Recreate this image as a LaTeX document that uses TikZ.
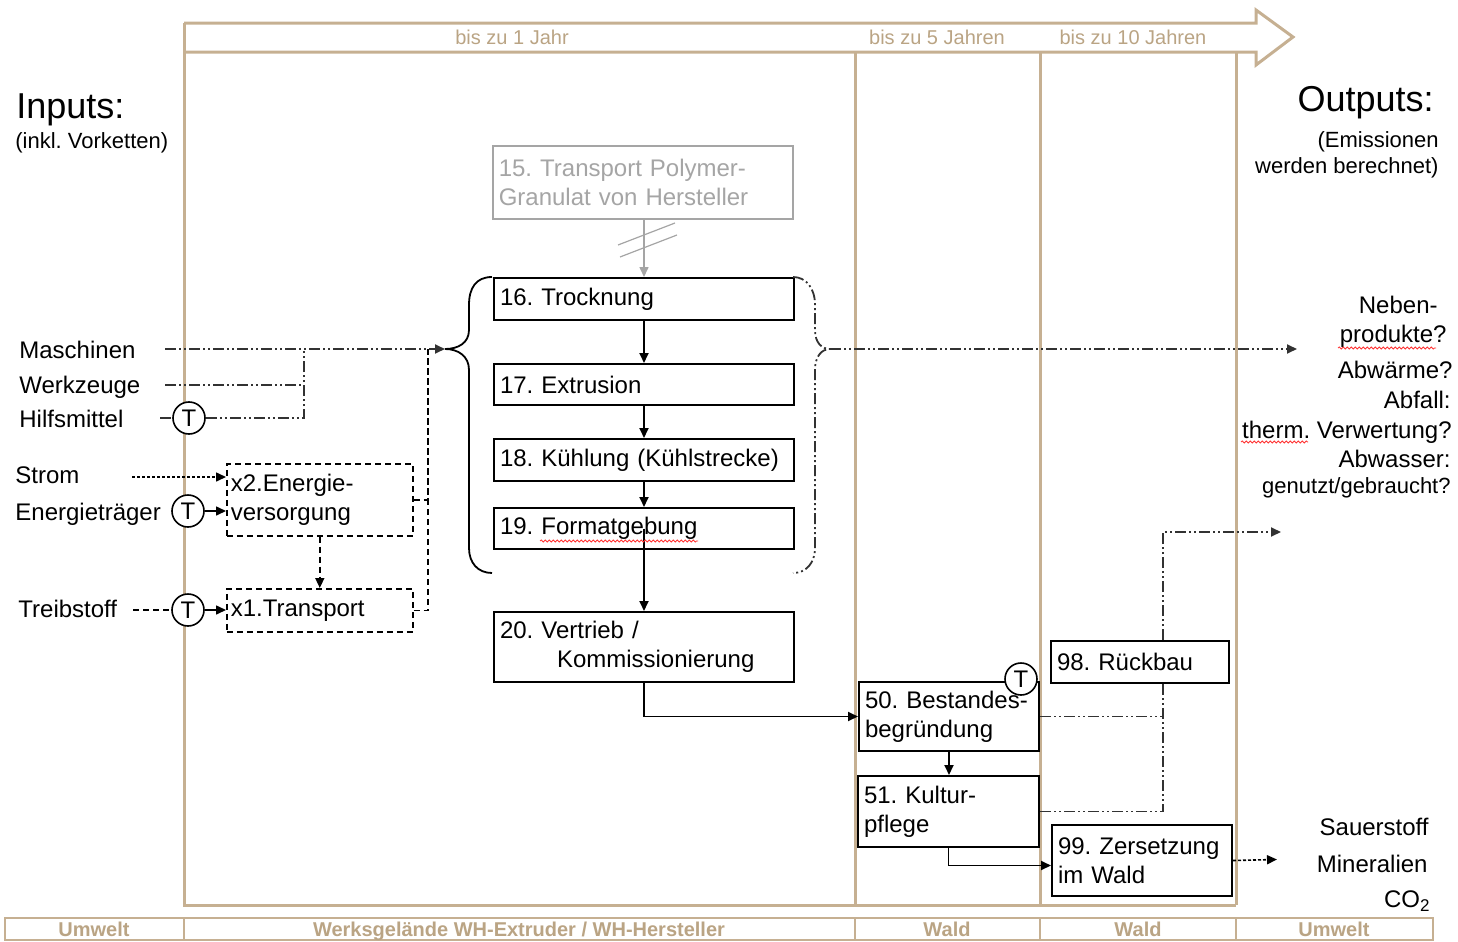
\documentclass[tikz,border=0pt]{standalone}
\usepackage{fontspec}
\setmainfont{Liberation Sans}
\usetikzlibrary{arrows.meta,decorations.pathmorphing,calc}
\frenchspacing

\definecolor{frametan}{RGB}{198,176,146}
\definecolor{labeltan}{RGB}{186,164,132}
\definecolor{ghost}{RGB}{165,165,165}
\definecolor{ddgray}{RGB}{50,50,50}

\newcommand\bxfont{\fontsize{12}{14.5}\selectfont}
\newcommand\smfont{\fontsize{11}{13}\selectfont}
\newcommand\bigfont{\fontsize{18}{21}\selectfont}
\newcommand\tanfont{\fontsize{10}{12}\selectfont}

\tikzset{
  arr/.style={-{Triangle[length=5pt,width=4.5pt]}},
  ddash/.style={draw=ddgray, line width=0.9pt,
    dash pattern=on 5.5pt off 1.5pt on 1pt off 1.5pt on 1pt off 1.5pt},
  dshd/.style={line width=0.8pt, dash pattern=on 3pt off 2pt},
  dtt/.style={line width=0.8pt, dash pattern=on 1.5pt off 1pt},
  solidline/.style={line width=0.8pt},
  pbox/.style={draw, line width=1pt, fill=white, anchor=north west,
    align=left, inner xsep=3pt, inner ysep=0pt, font=\bxfont},
  wide/.style={minimum width=150pt, text width=144pt},
  ghostbox/.style={draw=ghost, text=ghost, line width=0.8pt},
  tcirc/.style={circle, draw, line width=0.8pt, fill=white, minimum size=16pt,
    inner sep=0pt, font=\bxfont},
  inlabel/.style={anchor=base west, inner sep=0pt, font=\bxfont},
  outlabel/.style={anchor=base east, inner sep=0pt, font=\bxfont},
  timelabel/.style={anchor=base, inner sep=0pt, font=\tanfont, text=labeltan},
  zonelabel/.style={anchor=base, inner sep=0pt, font=\tanfont\bfseries, text=labeltan},
  frameline/.style={draw=frametan, line width=1.5pt},
  spellmark/.style={draw=red!80, line width=0.4pt,
    decorate, decoration={snake, amplitude=0.5pt, segment length=2pt}},
}

\begin{document}
\begin{tikzpicture}[x=0.5pt,y=-0.5pt]
\useasboundingbox (0,0) rectangle (1458,942);

% time axis arrow and swim lanes
\draw[frameline, line join=miter] (184,23) -- (1256,23) -- (1256,10) -- (1293,37)
  -- (1256,65) -- (1256,52) -- (184,52);
\draw[frameline] (184,23) -- (184,905) -- (1236,905);
\draw[frameline] (855,52) -- (855,905);
\draw[frameline] (1040,52) -- (1040,905);
\draw[frameline] (1236,52) -- (1236,905);
\node[timelabel] (tl1) at (512,45) {bis zu 1 Jahr};
\node[timelabel] (tl5) at (937,45) {bis zu 5 Jahren};
\node[timelabel] (tl10) at (1133,45) {bis zu 10 Jahren};

% zone bar at the bottom
\draw[draw=frametan, line width=1.2pt] (5,918) rectangle (1433,940);
\foreach \xx in {184,855,1040,1236}
  \draw[draw=frametan, line width=1.2pt] (\xx,918) -- (\xx,940);
\node[zonelabel] (z1) at (94,936) {Umwelt};
\node[zonelabel] (z2) at (519,936) {Werksgelände WH-Extruder / WH-Hersteller};
\node[zonelabel] (z3) at (947,936) {Wald};
\node[zonelabel] (z4) at (1138,936) {Wald};
\node[zonelabel] (z5) at (1334,936) {Umwelt};

% headings
\node[anchor=base west, inner sep=0pt, font=\bigfont] (hin) at (16,118) {Inputs:};
\node[anchor=base west, inner sep=0pt, font=\smfont] (hin2) at (15,148) {(inkl. Vorketten)};
\node[anchor=base east, inner sep=0pt, font=\bigfont] (hout) at (1434,112) {Outputs:};
\node[anchor=base east, inner sep=0pt, font=\smfont] (hout2) at (1439,147) {(Emissionen};
\node[anchor=base east, inner sep=0pt, font=\smfont] (hout3) at (1439,173) {werden berechnet)};

% input labels
\node[inlabel] (lM) at (19,358) {Maschinen};
\node[inlabel] (lW) at (19,393) {Werkzeuge};
\node[inlabel] (lH) at (19,427) {Hilfsmittel};
\node[inlabel] (lS) at (15,483) {Strom};
\node[inlabel] (lE) at (15,520) {Energieträger};
\node[inlabel] (lT) at (18,617) {Treibstoff};

% output labels
\node[outlabel] (oN1) at (1438,313) {Neben-};
\node[outlabel] (oN2) at (1447,342) {produkte?};
\node[outlabel] (oAw) at (1453,378) {Abwärme?};
\node[outlabel] (oAf) at (1451,408) {Abfall:};
\node[outlabel] (oTh) at (1452,438) {therm. Verwertung?};
\node[outlabel] (oAs) at (1451,467) {Abwasser:};
\node[outlabel, font=\smfont] (oGe) at (1451,493) {genutzt/gebraucht?};
\node[outlabel] (oSa) at (1429,835) {Sauerstoff};
\node[outlabel] (oMi) at (1428,872) {Mineralien};
\node[outlabel] (oCO) at (1430,907) {CO\raisebox{-0.35ex}{\fontsize{8.5}{9}\selectfont 2}};

% process boxes
\node[pbox, wide, ghostbox, minimum height=36.5pt] (b15) at (492,145)
  {15. Transport Polymer-\\Granulat von Hersteller};
\node[pbox, wide, minimum height=21pt] (b16) at (493,277) {16. Trocknung};
\node[pbox, wide, minimum height=20.5pt] (b17) at (493,363) {17. Extrusion};
\node[pbox, wide, minimum height=21pt] (b18) at (493,438) {18. Kühlung (Kühlstrecke)};
\node[pbox, wide, minimum height=20.5pt] (b19) at (493,507) {19. Formatgebung};
\node[pbox, wide, minimum height=35pt] (b20) at (493,611)
  {20. Vertrieb /\\\hspace*{28.5pt}Kommissionierung};

\node[pbox, dshd, minimum width=93pt, text width=89pt, inner xsep=2pt,
  minimum height=36pt] (x2) at (226,463) {x2.Energie-\\versorgung};
\node[pbox, dshd, minimum width=93pt, text width=89pt, inner xsep=2pt,
  minimum height=21.5pt] (x1) at (226,588) {x1.Transport};

\node[pbox, minimum width=90pt, text width=84pt, minimum height=34.5pt] (b50)
  at (858,681) {50. Bestandes-\\begründung};
\node[pbox, minimum width=90.5pt, text width=84.5pt, minimum height=35.5pt] (b51)
  at (857,775) {51. Kultur-\\pflege};
\node[pbox, minimum width=89pt, text width=83pt, minimum height=21pt] (b98)
  at (1050,640) {98. Rückbau};
\node[pbox, minimum width=90pt, text width=84pt, minimum height=35.5pt] (b99)
  at (1051,824) {99. Zersetzung\\im Wald};

% transport markers
\node[tcirc] (tH) at (189,418) {T};
\node[tcirc] (tE) at (188,511) {T};
\node[tcirc] (tT) at (188,610) {T};
\node[tcirc] (t50) at (1021,679) {T};

% helper points
\coordinate (lbTip) at (445,349);
\coordinate (rbTip) at (830,349);
\coordinate (mStart) at (165,349);
\coordinate (wStart) at (165,385);
\coordinate (hStart) at (160,418);
\coordinate (jHW) at (304,349);
\coordinate (bus) at (428,349);
\coordinate (sStart) at (132,477);
\coordinate (tStart) at (133,610);
\coordinate (rx) at (1163,0);
\coordinate (outTop) at (1297,349);
\coordinate (outMid) at (1281,532);
\coordinate (outLow) at (1277,859.5);

% braces around steps 16-19
\draw[line width=0.9pt] (492,277) .. controls (476,277) and (469,288) .. (469,305)
  -- (469,330) .. controls (469,343) and (458,349) .. (lbTip)
  .. controls (458,349) and (469,356) .. (469,370) -- (469,548)
  .. controls (469,563) and (478,573) .. (492,573);
\draw[ddash] (793,277) .. controls (806,277) and (815,288) .. (815,305)
  -- (815,330) .. controls (815,343) and (822,349) .. (rbTip)
  .. controls (822,349) and (815,356) .. (815,370) -- (815,548)
  .. controls (815,563) and (806,573) .. (793,573);

% inputs
\draw[ddash, arr] (mStart) -- (lbTip);
\draw[ddash] (wStart) -- (wStart -| jHW);
\draw[ddash] (hStart) -- (tH);
\draw[ddash] (tH) -| (jHW);
\draw[dtt, arr] (sStart) -- (sStart -| x2.west);
\draw[solidline, arr] (tE) -- (tE -| x2.west);
\draw[dshd] (tStart) -- (tT);
\draw[solidline, arr] (tT) -- (tT -| x1.west);
\draw[dshd, arr] (x2.south) -- (x1.north);
\draw[dshd] (x2.east) -| (bus);
\draw[dshd] (x1.east) -| (bus);

% process chain
\draw[ghost, line width=0.8pt, arr] (b16.north |- b15.south) -- (b16.north);
\draw[ghost, line width=0.6pt] (618,245) -- (675,223);
\draw[ghost, line width=0.6pt] (620,257) -- (677,235);
\draw[line width=0.9pt, arr] (b16.south) -- (b17.north);
\draw[line width=0.9pt, arr] (b17.south) -- (b18.north);
\draw[line width=0.9pt, arr] (b18.south) -- (b19.north);
\draw[line width=0.9pt, arr] (b19.center) -- (b20.north);
\draw[line width=0.9pt, arr] (b20.south) |- (b50.west);
\draw[line width=0.9pt, arr] (b50.south) -- (b50.south |- b51.north);
\draw[line width=0.9pt, arr] (b51.south) |- ([yshift=-2.5pt]b99.west);

% outputs
\draw[ddash, arr] (rbTip) -- (outTop);
\draw[ddash] (b50.east) -- (b50.east -| rx);
\draw[ddash] (b51.east) -| (rx |- b98.south);
\draw[ddash, arr] (rx |- b98.north) |- (outMid);
\draw[dtt, arr] (b99.east) -- (outLow);

% spelling marks
\draw[spellmark] (540,541) -- (698,541);
\draw[spellmark] (1338,348) -- (1436,348);
\draw[spellmark] (1241,442) -- (1308,442);
\end{tikzpicture}
\end{document}
